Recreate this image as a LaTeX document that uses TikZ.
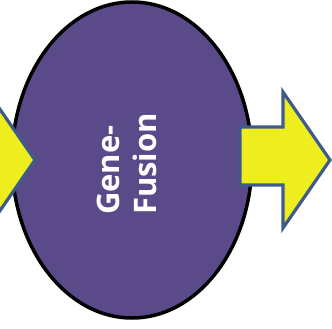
\documentclass[tikz,border=0pt]{standalone}
\usepackage{fontspec}
\setmainfont{Open Sans}
\usetikzlibrary{shapes.geometric}
\definecolor{purp}{HTML}{5B4A89}
\definecolor{yel}{HTML}{EEEE1E}
\definecolor{edgeblue}{HTML}{3F5B8A}
\begin{document}
\begin{tikzpicture}[x=1pt,y=-1pt,
  yarrow/.style={fill=yel,draw=edgeblue,line width=3.2pt,line join=miter},
  cellshape/.style={ellipse,fill=purp,draw=black,line width=3.5pt,minimum width=240pt,minimum height=316pt,inner sep=0pt},
  celltext/.style={rotate=90,text=white,font=\bfseries\fontsize{31}{37}\selectfont,align=left,inner sep=0pt}]
\clip (0,0) rectangle (332,329);
\fill[white] (0,0) rectangle (332,329);
\node[cellshape] (cell) at (132,160) {};
\draw[yarrow] (-60,127) -- (-12,127) -- (-12,92) -- (35,160) -- (-12,228) -- (-12,185) -- (-60,185) -- cycle;
\draw[yarrow] (240,127) -- (283,127) -- (283,92) -- (330,160) -- (283,228) -- (283,185) -- (240,185) -- cycle;
\node[celltext] (label) at (127,164) {Gene-\\Fusion};
\end{tikzpicture}
\end{document}
